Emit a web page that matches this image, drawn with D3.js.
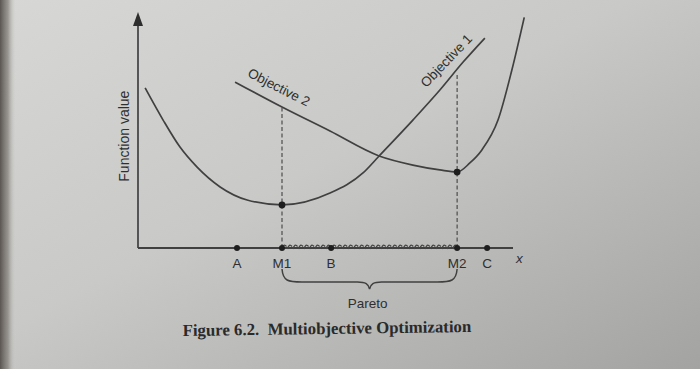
<!DOCTYPE html>
<html><head><meta charset="utf-8">
<script src="https://cdn.jsdelivr.net/npm/d3@7"></script>
<style>html,body{margin:0;padding:0;overflow:hidden;background:#c4c5c3}</style>
</head><body>
<script>
// ---- data ----
const obj1X = [0.19, 0.67, 1.12, 1.57, 2.19, 2.91, 3.84, 5.12, 6.0, 6.43, 7.33, 8.05, 8.67, 9.25];
const obj1Y = [6.87, 5.49, 4.33, 3.48, 2.62, 2.06, 1.85, 2.36, 3.22, 3.95, 5.49, 6.78, 7.98, 9.01];
const obj2X = [2.59, 3.84, 5.12, 6.43, 7.33, 8.05, 8.51, 8.85, 9.17, 9.6, 9.97, 10.3];
const obj2Y = [7.12, 6.05, 5.02, 3.95, 3.56, 3.35, 3.26, 3.65, 4.21, 5.49, 7.64, 9.9];
const pointNames = ["A", "M1", "B", "M2", "C"];
const pointX = [2.64, 3.84, 5.15, 8.51, 9.31];
const minima = [{x: 3.84, y: 1.85}, {x: 8.51, y: 3.26}];
const dashTops = [6.05, 7.42];
const curveLabels = ["Objective 1", "Objective 2"];
const axisLabels = {y: "Function value", x: "x"};
const braceLabel = "Pareto";
const caption = "Figure 6.2.\u00a0 Multiobjective Optimization";

const W = 700, H = 369;
const svg = d3.select("body").append("svg").attr("width", W).attr("height", H);
const defs = svg.append("defs");
const g1 = defs.append("linearGradient").attr("id", "paper").attr("x1", "0").attr("y1", "0").attr("x2", "1").attr("y2", "1");
g1.append("stop").attr("offset", "0").attr("stop-color", "#d7d8d6");
g1.append("stop").attr("offset", "0.45").attr("stop-color", "#c9cac8");
g1.append("stop").attr("offset", "1").attr("stop-color", "#a3a4a2");
const g2 = defs.append("linearGradient").attr("id", "edge").attr("x1", "0").attr("y1", "0").attr("x2", "1").attr("y2", "0");
g2.append("stop").attr("offset", "0").attr("stop-color", "#5a5550").attr("stop-opacity", 1);
g2.append("stop").attr("offset", "0.5").attr("stop-color", "#8a8681").attr("stop-opacity", 0.8);
g2.append("stop").attr("offset", "1").attr("stop-color", "#cfcfcc").attr("stop-opacity", 0);
svg.append("rect").attr("width", W).attr("height", H).attr("fill", "url(#paper)");
svg.append("rect").attr("width", 16).attr("height", H).attr("fill", "url(#edge)");

const x = d3.scaleLinear().domain([0, 10]).range([138, 513]);
const y = d3.scaleLinear().domain([0, 10]).range([248, 15]);
const ink = "#404040", txt = "#2f2f2f";
const sans = "'Liberation Sans', Arial, sans-serif";
const fs = 13.5;

// axes
svg.append("line").attr("x1", x(0)).attr("x2", x(0)).attr("y1", y(0)).attr("y2", y(10) + 8)
  .attr("stroke", ink).attr("stroke-width", 1.7);
svg.append("path").attr("d", `M${x(0)},${y(10) - 3} L${x(0) - 5},${y(10) + 11} L${x(0) + 5},${y(10) + 11} Z`).attr("fill", "#2e2e2e");
svg.append("line").attr("x1", x(0)).attr("x2", x(10)).attr("y1", y(0)).attr("y2", y(0))
  .attr("stroke", ink).attr("stroke-width", 1.9);

// hatched Pareto segment
const hatchPos = d3.range(pointX[1], pointX[3], 0.147);
svg.append("path").attr("d", hatchPos.map(v => `M${x(v)},${y(0) + 1} q1.5,-6 4.5,-2.5`).join(" "))
  .attr("fill", "none").attr("stroke", "#444").attr("stroke-width", 1.3);

// curves
const line = d3.line().x(d => x(d[0])).y(d => y(d[1])).curve(d3.curveMonotoneX);
svg.append("path").datum(d3.zip(obj1X, obj1Y)).attr("d", line)
  .attr("fill", "none").attr("stroke", ink).attr("stroke-width", 1.7);
svg.append("path").datum(d3.zip(obj2X, obj2Y)).attr("d", line)
  .attr("fill", "none").attr("stroke", ink).attr("stroke-width", 1.7);

// dashed verticals
[1, 3].forEach((pi, k) => {
  svg.append("line").attr("x1", x(pointX[pi])).attr("x2", x(pointX[pi]))
    .attr("y1", y(0)).attr("y2", y(dashTops[k]))
    .attr("stroke", "#4c4c4c").attr("stroke-width", 1.2).attr("stroke-dasharray", "4,2.5");
});

// dots
svg.selectAll(".pt").data(pointX).enter().append("circle")
  .attr("cx", d => x(d)).attr("cy", y(0)).attr("r", 3).attr("fill", "#1e1e1e");
svg.selectAll(".mn").data(minima).enter().append("circle")
  .attr("cx", d => x(d.x)).attr("cy", d => y(d.y)).attr("r", 3.4).attr("fill", "#1e1e1e");

// point labels
svg.selectAll(".pl").data(pointNames).enter().append("text")
  .attr("x", (d, i) => x(pointX[i])).attr("y", y(0) + 20)
  .attr("text-anchor", "middle").attr("font-family", sans).attr("font-size", fs)
  .attr("fill", txt).text(d => d);
svg.append("text").attr("x", x(10) + 3).attr("y", y(0) + 15)
  .attr("font-family", sans).attr("font-size", fs).attr("font-style", "italic")
  .attr("fill", txt).text(axisLabels.x);

// y-axis label
svg.append("text").attr("transform", `translate(${x(0) - 9},${y(4.8)}) rotate(-90)`)
  .attr("text-anchor", "middle").attr("font-family", sans).attr("font-size", 14)
  .attr("fill", txt).text(axisLabels.y);

// curve labels
svg.append("text").attr("transform", `translate(${x(8.31)},${y(7.9)}) rotate(-46)`)
  .attr("text-anchor", "middle").attr("font-family", sans).attr("font-size", fs)
  .attr("fill", txt).text(curveLabels[0]);
svg.append("text").attr("transform", `translate(${x(3.7)},${y(6.72)}) rotate(27)`)
  .attr("text-anchor", "middle").attr("font-family", sans).attr("font-size", fs)
  .attr("fill", txt).text(curveLabels[1]);

// brace
const bx1 = x(pointX[1]), bx2 = x(pointX[3]), bm = (bx1 + bx2) / 2, by = y(0) + 21;
svg.append("path")
  .attr("d", `M${bx1},${by} C${bx1 + 1},${by + 12} ${bx1 + 6},${by + 13} ${bx1 + 20},${by + 13}
    L${bm - 12},${by + 13} C${bm - 4},${by + 13} ${bm - 1},${by + 15} ${bm},${by + 20}
    C${bm + 1},${by + 15} ${bm + 4},${by + 13} ${bm + 12},${by + 13}
    L${bx2 - 20},${by + 13} C${bx2 - 6},${by + 13} ${bx2 - 1},${by + 12} ${bx2},${by}`)
  .attr("fill", "none").attr("stroke", "#404040").attr("stroke-width", 1.5);
svg.append("text").attr("x", bm - 2).attr("y", by + 39)
  .attr("text-anchor", "middle").attr("font-family", sans).attr("font-size", fs)
  .attr("fill", txt).text(braceLabel);

// caption
svg.append("text").attr("transform", "translate(327,334) rotate(-0.8)")
  .attr("text-anchor", "middle").attr("font-family", "'Liberation Serif', 'Times New Roman', serif")
  .attr("font-size", 16.8).attr("font-weight", "bold").attr("fill", "#2a2a2a").text(caption);
</script>
</body></html>
